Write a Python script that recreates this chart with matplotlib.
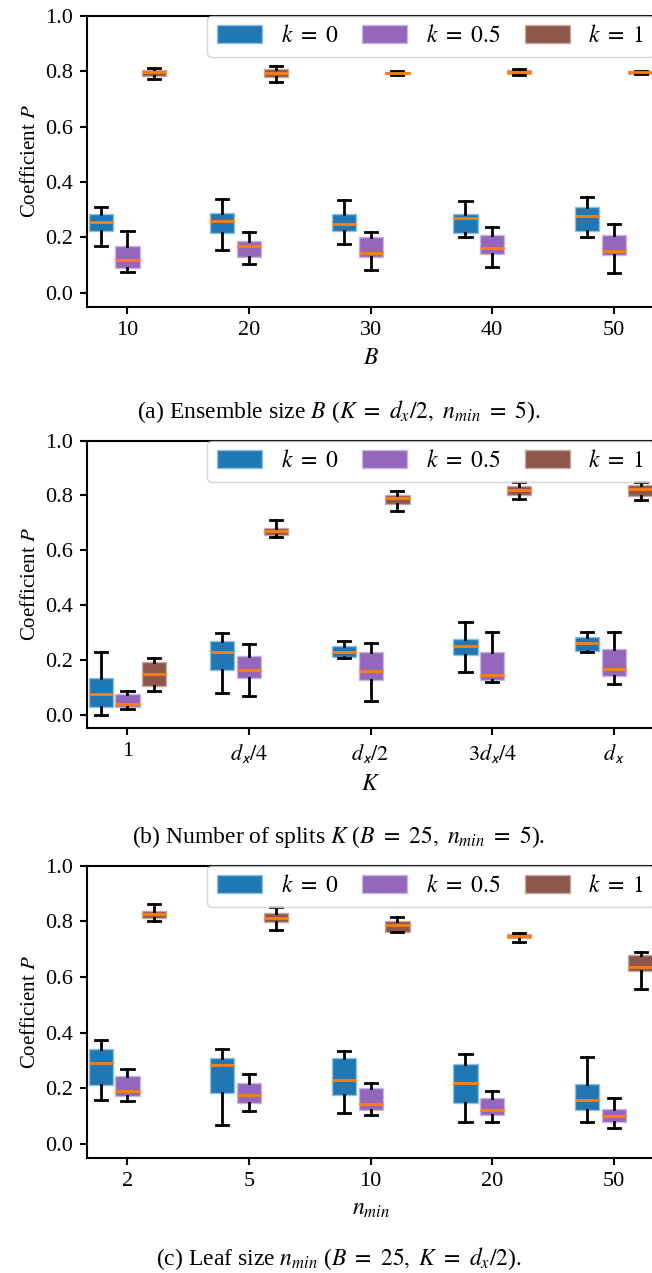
import matplotlib
matplotlib.use('Agg')
from matplotlib import pyplot as plt
from matplotlib.patches import Patch

plt.rcParams['font.family'] = ['Liberation Serif', 'DejaVu Serif']
plt.rcParams['mathtext.fontset'] = 'stix'

# each box: (whislo, q1, med, q3, whishi)
a_k0 = [(.17, .225, .257, .285, .31), (.155, .215, .26, .29, .34), (.175, .225, .25, .285, .335),
        (.2, .215, .27, .285, .33), (.2, .225, .277, .31, .345)]
a_k05 = [(.075, .09, .12, .17, .225), (.105, .128, .168, .188, .22), (.083, .13, .143, .2, .218),
         (.095, .14, .163, .21, .238), (.072, .135, .15, .208, .247)]
a_k1 = [(.77, .782, .795, .805, .812), (.76, .778, .793, .807, .82), (.785, .788, .793, .798, .8),
        (.785, .79, .796, .803, .808), (.788, .79, .795, .8, .8)]

b_k0 = [(0, .027, .077, .132, .227), (.08, .163, .23, .27, .298), (.208, .21, .227, .25, .268),
        (.155, .218, .252, .277, .338), (.228, .232, .263, .285, .3)]
b_k05 = [(.022, .027, .04, .077, .085), (.068, .135, .163, .213, .257), (.05, .128, .16, .228, .263),
         (.12, .125, .145, .227, .3), (.11, .14, .168, .238, .3)]
b_k1 = [(.085, .103, .148, .193, .208), (.648, .655, .67, .683, .71), (.742, .768, .79, .8, .818),
        (.788, .8, .82, .835, .85), (.782, .797, .825, .838, .85)]

c_k0 = [(.158, .21, .292, .34, .372), (.068, .183, .282, .31, .342), (.11, .176, .228, .31, .335),
        (.078, .145, .22, .288, .322), (.08, .122, .158, .214, .312)]
c_k05 = [(.155, .17, .19, .242, .268), (.118, .147, .175, .22, .25), (.102, .12, .143, .2, .22),
         (.08, .105, .123, .165, .19), (.055, .078, .1, .125, .165)]
c_k1 = [(.8, .812, .826, .838, .862), (.768, .797, .813, .83, .85), (.76, .762, .787, .8, .816),
        (.725, .74, .748, .755, .758), (.557, .62, .635, .678, .69)]

a_ticks = ['10', '20', '30', '40', '50']
b_ticks = ['1', r'$d_{\mathsf{x}}/4$', r'$d_{\mathsf{x}}/2$', r'$3d_{\mathsf{x}}/4$', r'$d_{\mathsf{x}}$']
c_ticks = ['2', '5', '10', '20', '50']

series_labels = [r'$k\ =\ 0$', r'$k\ =\ 0.5$', r'$k\ =\ 1$']
colors = ['#1f77b4', '#9467bd', '#8c564b']
edges = ['#8fc0e0', '#c9b3e0', '#c8a9a2']

# (data..., ticks, xlabel, caption, axes bottom, axes top, caption y)
panels = [
    (a_k0, a_k05, a_k1, a_ticks, '$B$',
     r'(a) Ensemble size $B$ ($K\ =\ d_x/2,\ n_{min}\ =\ 5$).', 0.759, 0.9877, 0.672),
    (b_k0, b_k05, b_k1, b_ticks, '$K$',
     r'(b) Number of splits $K$ ($B\ =\ 25,\ n_{min}\ =\ 5$).', 0.4279, 0.6538, 0.338),
    (c_k0, c_k05, c_k1, c_ticks, '$n_{min}$',
     r'(c) Leaf size $n_{min}$ ($B\ =\ 25,\ K\ =\ d_x/2$).', 0.0906, 0.320, 0.006),
]

fig = plt.figure(figsize=(6.52, 12.73), dpi=100)
left, right = 0.134, 1.003
for k0, k05, k1, ticks, xlabel, caption, bot, top, cap_y in panels:
    ax = fig.add_axes([left, bot, right - left, top - bot])
    for j, group in enumerate([k0, k05, k1]):
        stats = [dict(whislo=g[0], q1=g[1], med=g[2], q3=g[3], whishi=g[4], fliers=[]) for g in group]
        pos = [i + 1 + (j - 1) * 0.22 for i in range(5)]
        ax.bxp(stats, positions=pos, widths=0.2, patch_artist=True, showfliers=False,
               boxprops=dict(facecolor=colors[j], edgecolor=edges[j], linewidth=1),
               medianprops=dict(color='#ff7f0e', linewidth=2),
               whiskerprops=dict(color='black', linewidth=2),
               capprops=dict(color='black', linewidth=2), capwidths=0.1)
    ax.set_xlim(0.67, 5.33)
    ax.set_ylim(-0.05, 1.0)
    ax.set_xticks(range(1, 6))
    ax.set_xticklabels(ticks)
    ax.set_yticks([0, 0.2, 0.4, 0.6, 0.8, 1.0])
    ax.tick_params(labelsize=16, width=1.5, length=5, pad=5)
    for s in ['left', 'bottom']:
        ax.spines[s].set_linewidth(1.5)
    for s in ['top', 'right']:
        ax.spines[s].set_visible(False)
    ax.plot([0, 1], [1, 1], transform=ax.transAxes, color='black', lw=1.5, clip_on=False)
    ax.set_ylabel('Coefficient $P$', fontsize=15, labelpad=4)
    ax.set_xlabel(xlabel, fontsize=17, labelpad=6)
    handles = [Patch(facecolor=colors[j], edgecolor=edges[j], label=series_labels[j]) for j in range(3)]
    ax.legend(handles=handles, ncol=3, loc='upper right', fontsize=17, handlelength=1.9,
              handleheight=0.8, columnspacing=1.0, borderaxespad=0.0, framealpha=0.8)
    fig.text(0.52, cap_y, caption, ha='center', fontsize=17)

fig.savefig('out.png', dpi=100)
